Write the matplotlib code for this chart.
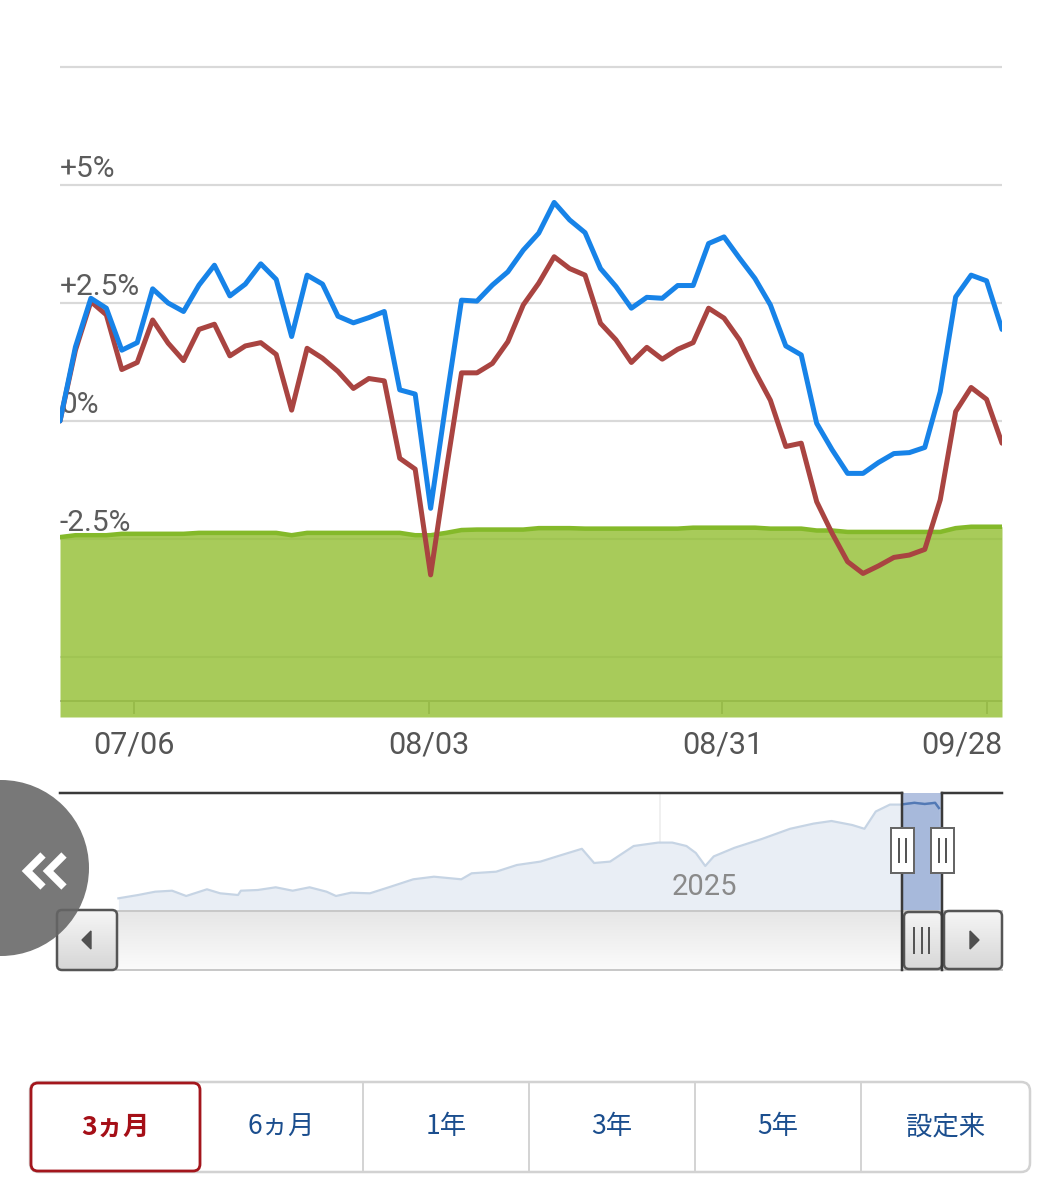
import numpy as np
import matplotlib
matplotlib.use("Agg")
import matplotlib.pyplot as plt
from matplotlib.patches import FancyBboxPatch, Rectangle, Circle, Polygon
from matplotlib.colors import LinearSegmentedColormap
import matplotlib.transforms as mtransforms

plt.rcParams['font.family'] = ['Roboto', 'Noto Sans CJK JP', 'DejaVu Sans']

# ---------------- data ----------------
fund = [0.00, 1.57, 2.60, 2.39, 1.50, 1.66, 2.80, 2.50, 2.32, 2.88,
        3.30, 2.65, 2.90, 3.33, 3.00, 1.79, 3.09, 2.90, 2.22, 2.08,
        2.19, 2.32, 0.66, 0.57, -1.85, 0.40, 2.56, 2.54, 2.88, 3.16,
        3.62, 3.98, 4.63, 4.26, 3.99, 3.23, 2.85, 2.39, 2.62, 2.60,
        2.87, 2.87, 3.76, 3.90, 3.45, 3.02, 2.46, 1.59, 1.40, -0.05,
        -0.61, -1.11, -1.11, -0.88, -0.69, -0.67, -0.56, 0.62, 2.63, 3.09,
        2.97, 1.94]
benchmark = [0.00, 1.50, 2.53, 2.25, 1.09, 1.24, 2.14, 1.65, 1.28, 1.94,
             2.05, 1.38, 1.59, 1.66, 1.41, 0.23, 1.54, 1.33, 1.05, 0.69,
             0.90, 0.85, -0.79, -1.02, -3.26, -1.07, 1.02, 1.02, 1.22, 1.68,
             2.46, 2.92, 3.48, 3.23, 3.09, 2.07, 1.72, 1.24, 1.56, 1.31,
             1.52, 1.66, 2.39, 2.18, 1.72, 1.05, 0.44, -0.54, -0.47, -1.71,
             -2.38, -2.98, -3.23, -3.07, -2.89, -2.84, -2.72, -1.67, 0.20, 0.71,
             0.46, -0.47]
green_area = [-2.46, -2.42, -2.42, -2.42, -2.39, -2.39, -2.39, -2.39, -2.39, -2.37,
              -2.37, -2.37, -2.37, -2.37, -2.37, -2.42, -2.37, -2.37, -2.37, -2.37,
              -2.37, -2.37, -2.37, -2.42, -2.42, -2.37, -2.31, -2.30, -2.30, -2.30,
              -2.30, -2.27, -2.27, -2.27, -2.28, -2.28, -2.28, -2.28, -2.28, -2.28,
              -2.28, -2.26, -2.26, -2.26, -2.26, -2.26, -2.28, -2.28, -2.28, -2.32,
              -2.32, -2.35, -2.35, -2.35, -2.35, -2.35, -2.35, -2.35, -2.27, -2.24,
              -2.24, -2.24]
x_tick_pos = [4.8, 23.9, 42.9, 60.0]
x_tick_labels = ['07/06', '08/03', '08/31', '09/28']
y_grid = [7.5, 5, 2.5, 0, -2.5, -5]
y_label_vals = [5, 2.5, 0, -2.5]
y_label_txt = ['+5%', '+2.5%', '0%', '-2.5%']

nav_t = [6.2, 8.3, 10.1, 11.9, 13.4, 15.6, 17.0, 18.9, 19.2, 21.0,
         22.9, 24.7, 26.5, 28.3, 29.3, 30.9, 32.9, 34.9, 37.5, 39.7,
         42.6, 43.7, 46.3, 48.5, 51.0, 52.9, 55.4, 56.7, 58.4, 60.9,
         63.5, 65.0, 66.5, 67.5, 68.5, 69.4, 71.6, 74.5, 77.5, 80.0,
         81.9, 84.1, 85.4, 86.6, 88.1, 89.2, 90.7, 91.8, 92.9, 93.3]
nav_v = [11170, 11500, 11830, 11930, 11400, 12070, 11670, 11500, 11930, 12000,
         12270, 11930, 12270, 11830, 11400, 11730, 11670, 12270, 13070, 13330,
         13070, 13670, 13830, 14500, 14840, 15400, 16120, 14700, 14840, 16400,
         16740, 16740, 16400, 15700, 14400, 15360, 16220, 17100, 18120, 18640,
         18900, 18500, 18120, 19850, 20540, 20540, 20720, 20600, 20720, 20200]
nav_year_t = 63.7
nav_year_label = '2025'
nav_sel = (89.4, 93.6)

range_buttons = ['3ヵ月', '6ヵ月', '1年', '3年', '5年', '設定来']

# ---------------- layout ----------------
W, H, DPI = 1062, 1200, 100
PX = 72.0 / DPI  # points per pixel

fig = plt.figure(figsize=(W / DPI, H / DPI), dpi=DPI)
fig.patch.set_facecolor('white')


def fbox(x0, y0, x1, y1):
    return [x0 / W, 1 - y1 / H, (x1 - x0) / W, (y1 - y0) / H]


# ---- main chart ----
ax = fig.add_axes(fbox(60, 65, 1002, 717))
n = len(fund)
xs = np.arange(n)
ymin, ymax = -6.271, 7.542
ax.set_xlim(0, n - 1)
ax.set_ylim(ymin, ymax)
ax.axis('off')

for v in y_grid:
    ax.axhline(v, color='#d9d9d9', lw=2.2 * PX, zorder=1)

# x axis line and ticks (under the translucent area)
axis_frac = (717 - 701) / 652.0
ax.plot([0, 1], [axis_frac, axis_frac], transform=ax.transAxes,
        color='#b0b0b0', lw=2 * PX, zorder=1.2)
btrans = mtransforms.blended_transform_factory(ax.transData, ax.transAxes)
for p in x_tick_pos:
    ax.plot([p, p], [axis_frac, (717 - 713) / 652.0], transform=btrans,
            color='#b0b0b0', lw=2 * PX, zorder=1.2)

ax.fill_between(xs, green_area, ymin, color='#92bf31', alpha=0.8, lw=0, zorder=2)
ax.plot(xs, green_area, color='#84b92a', lw=4.5 * PX, zorder=3,
        solid_joinstyle='round')

ax.plot(xs, benchmark, color='#a94441', lw=5 * PX, zorder=4,
        solid_joinstyle='round', solid_capstyle='round')
ax.plot(xs, fund, color='#1783e8', lw=5 * PX, zorder=5,
        solid_joinstyle='round', solid_capstyle='round')

for v, t in zip(y_label_vals, y_label_txt):
    ax.annotate(t, xy=(0, v), xycoords=('axes fraction', 'data'),
                xytext=(0, 8 * PX), textcoords='offset points',
                ha='left', va='baseline', fontsize=21.5, color='#5c5c5c',
                family='Roboto', zorder=1.5, annotation_clip=False)

lab_y = (717 - 745) / 652.0
for i, (p, t) in enumerate(zip(x_tick_pos, x_tick_labels)):
    if i == len(x_tick_pos) - 1:
        ax.text(n - 1, lab_y, t, transform=btrans, ha='right', va='center',
                fontsize=22, color='#555555', family='Roboto')
    else:
        ax.text(p, lab_y, t, transform=btrans, ha='center', va='center',
                fontsize=22, color='#555555', family='Roboto')

# ---- navigator ----
nav = fig.add_axes(fbox(60, 793, 1002, 910))
nav.set_xlim(0, 100)
nav.set_ylim(10000, 21700)
nav.axis('off')
nav.axvline(nav_year_t, color='#ececec', lw=1.5 * PX, zorder=1)
nav.fill_between(nav_t, nav_v, 10000, color='#e9eef5', lw=0, zorder=2)
nav.plot(nav_t, nav_v, color='#c6d4e4', lw=2.2 * PX, zorder=2.5)
clip = Rectangle((nav_sel[0], 10000), nav_sel[1] - nav_sel[0], 11700,
                 transform=nav.transData)
dark, = nav.plot(nav_t, nav_v, color='#3f6ea8', lw=2.4 * PX, zorder=3)
dark.set_clip_path(clip)
nav.axvspan(nav_sel[0], nav_sel[1], color=(102 / 255, 133 / 255, 194 / 255),
            alpha=0.5, lw=0, zorder=4)
nav.text(nav_year_t + 4.75, 0.2, nav_year_label,
         transform=mtransforms.blended_transform_factory(nav.transData, nav.transAxes),
         ha='center', va='center', fontsize=21, color='#8a8a8a', family='Roboto')

# ---- overlay (UI chrome), pixel coordinates ----
ov = fig.add_axes([0, 0, 1, 1])
ov.set_xlim(0, W)
ov.set_ylim(H, 0)
ov.axis('off')


def grad_rect(x0, y0, x1, y1, c_top, c_bot, rounding=0.0, edge='none', lw=0.0, z=5):
    style = "round,pad=0,rounding_size=%g" % rounding if rounding else "square,pad=0"
    patch = FancyBboxPatch((x0, y0), x1 - x0, y1 - y0, boxstyle=style,
                           facecolor='none', edgecolor=edge, linewidth=lw, zorder=z + 0.1)
    ov.add_patch(patch)
    cmap = LinearSegmentedColormap.from_list('g', [c_top, c_bot])
    im = ov.imshow(np.linspace(0, 1, 64)[:, None], extent=(x0, x1, y1, y0), cmap=cmap,
                   aspect='auto', zorder=z, interpolation='bilinear')
    im.set_clip_path(patch)
    return patch


# scrollbar track
grad_rect(117, 910, 1002, 970, '#e6e6e6', '#fbfbfb', z=2)
ov.plot([117, 1002], [910.5, 910.5], color='#c8c8c8', lw=2 * PX, zorder=2.5)
ov.plot([117, 1002], [969.5, 969.5], color='#c8c8c8', lw=2 * PX, zorder=2.5)

# buttons
grad_rect(57, 910, 117, 970, '#f6f6f6', '#d6d6d6', rounding=5, edge='#555555', lw=2.5 * PX, z=3)
ov.add_patch(Polygon([[91, 931], [91, 949], [82, 940]], closed=True, color='#505050', zorder=3.5))
grad_rect(944, 911, 1002, 969, '#f6f6f6', '#d6d6d6', rounding=5, edge='#555555', lw=2.5 * PX, z=3)
ov.add_patch(Polygon([[970, 931], [970, 949], [979, 940]], closed=True, color='#505050', zorder=3.5))
# thumb
grad_rect(904, 912, 942, 969, '#f4f4f4', '#d8d8d8', rounding=5, edge='#555555', lw=2.5 * PX, z=3)
for lx in (914, 921.5, 929):
    ov.plot([lx, lx], [928, 953], color='#555555', lw=2 * PX, zorder=3.6)

# navigator outline and mask edges
ov.plot([60, 902], [793, 793], color='#3a3a3a', lw=2.5 * PX, zorder=4)
ov.plot([942, 1002], [793, 793], color='#3a3a3a', lw=2.5 * PX, zorder=4)
ov.plot([902, 902], [793, 970], color='#3a3a3a', lw=2.5 * PX, zorder=4)
ov.plot([942, 942], [793, 970], color='#3a3a3a', lw=2.5 * PX, zorder=4)

# handles
for hx in (902, 942):
    ov.add_patch(Rectangle((hx - 11.5, 828), 23, 45, facecolor='white',
                           edgecolor='#666666', lw=2 * PX, zorder=5))
    for dx in (-3.5, 3.5):
        ov.plot([hx + dx, hx + dx], [839, 862], color='#555555', lw=2 * PX, zorder=5.5)

# side circle with chevrons
ov.add_patch(Circle((1, 868), 88, facecolor='#656565', alpha=0.88, lw=0, zorder=8))
for cx in (27, 48):
    ov.plot([cx + 16, cx, cx + 16], [855, 871, 887], color='white',
            lw=7.5 * PX, zorder=9, solid_joinstyle='miter', solid_capstyle='butt')

# range selector buttons
bounds = [30, 200, 363, 529, 695, 861, 1030]
ov.add_patch(FancyBboxPatch((30, 1082), 1000, 90, boxstyle="round,pad=0,rounding_size=9",
                            facecolor='white', edgecolor='#d2d2d2', lw=2.5 * PX, zorder=2))
for bx in bounds[2:-1]:
    ov.plot([bx, bx], [1084, 1170], color='#d4d4d4', lw=2 * PX, zorder=2.5)
ov.add_patch(FancyBboxPatch((31, 1083), 169, 88, boxstyle="round,pad=0,rounding_size=7",
                            facecolor='white', edgecolor='#a3161c', lw=2.8 * PX, zorder=3))
for i, lab in enumerate(range_buttons):
    cxm = (bounds[i] + bounds[i + 1]) / 2
    if i == 0:
        ov.text(cxm, 1127, lab, ha='center', va='center', fontsize=19, fontweight='bold',
                color='#a50f17', family=['Noto Sans CJK JP', 'DejaVu Sans'], zorder=4)
    else:
        ov.text(cxm, 1127, lab, ha='center', va='center', fontsize=19,
                color='#1b4e8e', family=['Noto Sans CJK JP', 'DejaVu Sans'], zorder=4)

ov.set_xlim(0, W)
ov.set_ylim(H, 0)

fig.savefig('out.png', dpi=DPI, facecolor='white')
